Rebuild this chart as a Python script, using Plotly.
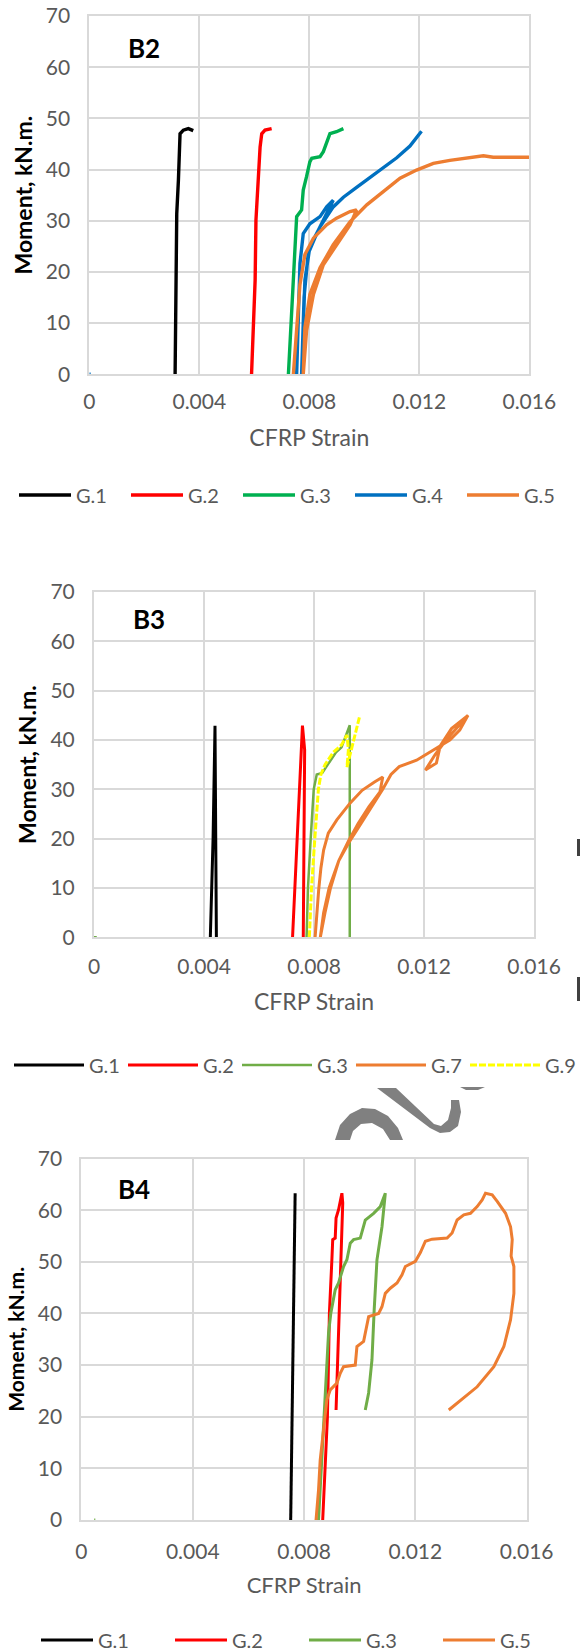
import plotly.graph_objects as go

W, H = 580, 1652

# ---------------- data (strain, moment kN.m) ----------------
x_ticks = [0, 0.004, 0.008, 0.012, 0.016]
x_tick_labels = ["0", "0.004", "0.008", "0.012", "0.016"]
y_ticks = [0, 10, 20, 30, 40, 50, 60, 70]

# Panel B2
b2_g1_strain = [0.00312, 0.00315, 0.00316, 0.00318, 0.00318, 0.00324, 0.00327, 0.0033, 0.00342, 0.0036, 0.00378]
b2_g1_moment = [0, 11.9, 22.0, 22.5, 31.4, 37.9, 44.4, 47.0, 47.7, 48.0, 47.6]
b2_g2_strain = [0.0059, 0.00597, 0.00603, 0.00606, 0.00615, 0.00621, 0.00627, 0.00639, 0.00663]
b2_g2_moment = [0, 9.1, 18.4, 30.1, 40.6, 44.4, 47.0, 47.7, 48.0]
b2_g3_strain = [0.00724, 0.00732, 0.00742, 0.00748, 0.00754, 0.00772, 0.00778, 0.0079, 0.00802, 0.00809,
                0.00839, 0.00851, 0.00863, 0.00875, 0.00899, 0.00924]
b2_g3_moment = [0, 9.1, 18.4, 26.2, 30.8, 32.1, 36.0, 38.6, 41.5, 42.2, 42.5, 43.5, 45.4, 47.0, 47.4, 48.0]
b2_g4_strain = [0, 0.00005, None, 0.00754, 0.0076, 0.00766, 0.00778, 0.00802, 0.00839, 0.00863, 0.00887,
                0.00863, 0.00827, 0.00796, 0.00781, 0.00772, 0.00776, 0.00784, 0.00802, 0.00839, 0.00887,
                0.00924, 0.00972, 0.01021, 0.01069, 0.01118, 0.01166, 0.0119, 0.01208]
b2_g4_moment = [0, 0, None, 0, 11.9, 21.6, 27.5, 29.4, 30.8, 32.7, 34.0, 31.5, 27.5, 23.6, 15.1, 0, 8, 18.4,
                24.9, 28.8, 32.7, 34.6, 36.5, 38.4, 40.4, 42.3, 44.6, 46.2, 47.5]
b2_g5_strain = [0.00742, 0.00754, 0.00766, 0.00784, 0.00815, 0.00863, 0.00899, 0.00948, 0.00972, 0.00948,
                0.00899, 0.00851, 0.00815, 0.0079, 0.00778, 0.00784, 0.00802, 0.00839, 0.00887, 0.00948,
                0.01009, 0.01069, 0.0113, 0.0119, 0.01251, 0.01311, 0.01372, 0.01433, 0.01469, 0.016]
b2_g5_moment = [0, 9.1, 17.5, 23.4, 26.6, 29.2, 30.5, 31.8, 32.1, 29.2, 25.3, 21.4, 15.6, 8.5, 0, 9.1, 15.6,
                20.8, 25.3, 29.8, 33.1, 35.7, 38.3, 39.9, 41.2, 41.8, 42.2, 42.7, 42.4, 42.4]

# Panel B3
b3_g1_strain = [0.00423, 0.00433, 0.0044, 0.00443, 0.00445]
b3_g1_moment = [0, 20, 42.9, 20, 0]
b3_g2_strain = [0.00722, 0.0073, 0.00738, 0.00745, 0.00752, 0.00758, 0.00766, 0.00764, 0.00761]
b3_g2_moment = [0, 10, 20, 30, 38, 42.9, 38, 20, 0]
b3_g3_strain = [0, 0.0001, None, 0.00773, 0.00778, 0.00788, 0.00799, 0.0081, 0.0083, 0.0085, 0.0088, 0.009,
                0.0091, 0.0093, 0.0093, 0.0093]
b3_g3_moment = [0, 0, None, 0, 10, 20, 30, 33, 33.3, 35, 37.5, 38.5, 40, 43, 30, 0]
b3_g7_strain = [0.00804, 0.0081, 0.00817, 0.00825, 0.00835, 0.00852, 0.00883, 0.00931, 0.00975, 0.0102,
                0.0105,
                0.0104, 0.0100, 0.0096, 0.00925, 0.0089, 0.00855, 0.00835, 0.00823,
                0.0084, 0.0086, 0.0089, 0.0093, 0.0097, 0.0101, 0.0105, 0.0108, 0.0111, 0.01173, 0.01234,
                0.01294, 0.0133, 0.0136, 0.013, 0.01259, 0.01245, 0.01219, 0.01205, 0.0124, 0.0128, 0.0132,
                0.01355]
b3_g7_moment = [0, 5, 9.6, 14, 17.7, 21.1, 23.8, 27.2, 29.8, 31.5,
                32.5,
                29.5, 26.5, 23.0, 19.5, 15.5, 10, 5, 0,
                5, 10, 15.5, 19.5, 23, 26.5, 30, 33, 34.6, 35.9, 37.9,
                40, 42, 45.0, 42.3, 38.8, 35.3, 34.5, 33.9, 37.0, 40.0, 42.5,
                44.5]
b3_g9_strain = [0.00783, 0.00791, 0.00803, 0.00816, 0.00825, 0.0084, 0.0087, 0.009, 0.0092, 0.00925, 0.0092,
                0.00935, 0.0095, 0.00965]
b3_g9_moment = [0, 10, 20, 30, 33, 35, 37.5, 39, 41, 38, 34.5, 38, 41, 44.6]

# Panel B4
b4_g1_strain = [0.00752, 0.0076, 0.00768]
b4_g1_moment = [0, 30, 63.3]
b4_g2_strain = [0.00867, 0.00876, 0.00884, 0.00888, 0.00891, 0.009, 0.00903, 0.00912, 0.00915, 0.00924,
                0.00936, 0.00939, 0.00932, 0.00924, 0.0092, 0.00915, 0.00915]
b4_g2_moment = [0, 10.3, 20, 31, 40, 50.4, 54.3, 54.6, 58.5, 60.1, 63.3, 61.4, 50.4, 37.5, 31, 24.6, 21.3]
b4_g3_strain = [0.00046, 0.0005, None, 0.00852, 0.00864, 0.00872, 0.00879, 0.00888, 0.00896, 0.00912,
                0.00924, 0.00942, 0.00954, 0.00966, 0.00978, 0.01002, 0.0102, 0.0105, 0.01074, 0.01086,
                0.01092, 0.0108, 0.01062, 0.01052, 0.01044, 0.01032, 0.0102]
b4_g3_moment = [0, 0, None, 0, 11.6, 20, 27.8, 36.2, 40, 44.6, 45.9, 49.1, 50.4, 53.6, 54.3, 54.6, 58.1,
                59.4, 60.7, 62.5, 63.3, 56.8, 50.4, 40.7, 31, 24.6, 21.3]
b4_g5_strain = [0.00843, 0.00852, 0.00858, 0.0087, 0.00882, 0.00894, 0.00918, 0.0093, 0.00942, 0.00984,
                0.0099, 0.01014, 0.01026, 0.01032, 0.01068, 0.0108, 0.01092, 0.0111, 0.01134, 0.01152,
                0.01164, 0.012, 0.01218, 0.01236, 0.0126, 0.01314, 0.01332, 0.0135, 0.01374, 0.01398,
                0.01422, 0.0144, 0.01452, 0.01476, 0.01494, 0.01524, 0.01542, 0.01548, 0.01544, 0.01554,
                0.01554, 0.01542, 0.01518, 0.01482, 0.01422, 0.0132]
b4_g5_moment = [0, 5.8, 11.6, 18.1, 23.3, 25.2, 26.5, 28.4, 29.7, 30, 33.6, 34.6, 37.5, 39.4, 40, 41.3,
                43.9, 44.9, 45.9, 47.5, 49.1, 50.1, 51.8, 54.0, 54.4, 54.6, 55.6, 58.1, 59.1, 59.4, 60.7,
                62.0, 63.3, 63.0, 61.7, 59.4, 56.8, 54.3, 51.1, 49.1, 43.9, 38.8, 33.6, 29.7, 25.8, 21.3]

panel_labels = ["B2", "B3", "B4"]

# ---------------- styling ----------------
FONT = "Lato"
GRID = "#D9D9D9"
TXT = "#595959"
C_BLACK, C_RED = "#000000", "#FF0000"
C_GREEN_B2, C_GREEN = "#00B050", "#70AD47"
C_BLUE, C_ORANGE, C_YELLOW = "#0070C0", "#ED7D31", "#FFFF00"

# pixel geometry of the three plot areas: (left, right, top, bottom)
areas = [(89.3, 529.3, 16.0, 374.3), (94.0, 534.0, 592.0, 937.3), (81.4, 526.7, 1158.6, 1520.0)]
legend_y = [495, 1065, 1640]
legend_x = [14, 9, 36]
legend_itemw = [52, 70, 52]
legend_entry = [45, 29, 67]
label_pos = [(0.124, 0.912), (0.126, 0.923), (0.118, 0.917)]
ytitle_size = [23, 23, 21]
xtitle_size = [23, 23, 22]
x_ticklen = [7, 9, 12]
x_standoff = [18, 17, 15]
line_w = [3.4, 3, 3]

fig = go.Figure()

series = [
    [("G.1", b2_g1_strain, b2_g1_moment, C_BLACK, "solid"),
     ("G.2", b2_g2_strain, b2_g2_moment, C_RED, "solid"),
     ("G.3", b2_g3_strain, b2_g3_moment, C_GREEN_B2, "solid"),
     ("G.4", b2_g4_strain, b2_g4_moment, C_BLUE, "solid"),
     ("G.5", b2_g5_strain, b2_g5_moment, C_ORANGE, "solid")],
    [("G.1", b3_g1_strain, b3_g1_moment, C_BLACK, "solid"),
     ("G.2", b3_g2_strain, b3_g2_moment, C_RED, "solid"),
     ("G.3", b3_g3_strain, b3_g3_moment, C_GREEN, "solid"),
     ("G.7", b3_g7_strain, b3_g7_moment, C_ORANGE, "solid"),
     ("G.9", b3_g9_strain, b3_g9_moment, C_YELLOW, "7px,2px")],
    [("G.1", b4_g1_strain, b4_g1_moment, C_BLACK, "solid"),
     ("G.2", b4_g2_strain, b4_g2_moment, C_RED, "solid"),
     ("G.3", b4_g3_strain, b4_g3_moment, C_GREEN, "solid"),
     ("G.5", b4_g5_strain, b4_g5_moment, C_ORANGE, "solid")],
]

annotations = []
for i, (l, r, t, b) in enumerate(areas):
    sfx = "" if i == 0 else str(i + 1)
    leg = "legend" if i == 0 else f"legend{i + 1}"
    for name, xs, ys, col, dash in series[i]:
        wd = 2.5 if (i == 1 and name == "G.3") else line_w[i]
        fig.add_trace(go.Scatter(x=xs, y=ys, name=name, mode="lines",
                                 line=dict(color=col, width=wd, dash=dash),
                                 xaxis="x" + sfx, yaxis="y" + sfx, legend=leg))
    fig.layout["xaxis" + sfx] = dict(
        domain=[l / W, r / W], anchor="y" + sfx, range=[0, 0.016],
        tickvals=x_ticks, ticktext=x_tick_labels,
        showgrid=True, gridcolor=GRID, gridwidth=2, zeroline=False,
        showline=True, linecolor=GRID, linewidth=2, mirror=True,
        ticks="outside", ticklen=x_ticklen[i], tickcolor="rgba(0,0,0,0)",
        tickfont=dict(family=FONT, size=21, color=TXT),
        title=dict(text="CFRP Strain", font=dict(family=FONT, size=xtitle_size[i], color=TXT),
                   standoff=x_standoff[i]),
        automargin=False, fixedrange=True)
    fig.layout["yaxis" + sfx] = dict(
        domain=[1 - b / H, 1 - t / H], anchor="x" + sfx, range=[0, 70],
        tickvals=y_ticks, showgrid=True, gridcolor=GRID, gridwidth=2, zeroline=False,
        showline=True, linecolor=GRID, linewidth=2, mirror=True,
        ticks="outside", ticklen=13, tickcolor="rgba(0,0,0,0)",
        tickfont=dict(family=FONT, size=21, color=TXT),
        title=dict(text="<b>Moment, kN.m.</b>", font=dict(family=FONT, size=ytitle_size[i], color="#000000"),
                   standoff=7),
        automargin=False, fixedrange=True)
    fig.layout[leg] = dict(
        orientation="h", x=legend_x[i] / W, y=1 - legend_y[i] / H, xanchor="left", yanchor="middle",
        font=dict(family=FONT, size=20, color=TXT), bgcolor="rgba(0,0,0,0)",
        entrywidth=legend_entry[i], entrywidthmode="pixels", itemwidth=legend_itemw[i], tracegroupgap=0)
    annotations.append(dict(text=f"<b>{panel_labels[i]}</b>", xref="x" + sfx + " domain",
                            yref="y" + sfx + " domain", x=label_pos[i][0], y=label_pos[i][1],
                            xanchor="center", yanchor="middle", showarrow=False,
                            font=dict(family=FONT, size=26, color="#000000")))


def px_path(pts, close=False):
    s = "M " + " L ".join(f"{x / W:.5f},{1 - y / H:.5f}" for x, y in pts)
    return s + (" Z" if close else "")


shapes = [
    # watermark fragments (grey) between panel B3 and B4
    dict(type="path", xref="paper", yref="paper", fillcolor="#808080", line=dict(width=0),
         path=px_path([(335, 1140), (340, 1125), (350, 1114), (362, 1108), (375, 1109), (388, 1116),
                       (398, 1128), (403, 1140), (390, 1140), (383, 1129), (372, 1123), (361, 1124),
                       (353, 1131), (350, 1140)], close=True)),
    dict(type="path", xref="paper", yref="paper", fillcolor="#808080", line=dict(width=0),
         path=px_path([(377, 1088), (396, 1088), (434, 1124), (441, 1126), (448, 1120), (451, 1108),
                       (451, 1100), (459, 1100), (461, 1112), (458, 1126), (450, 1132), (440, 1133),
                       (430, 1128)], close=True)),
    dict(type="path", xref="paper", yref="paper", fillcolor="#808080", line=dict(width=0),
         path=px_path([(460, 1087), (485, 1087), (478, 1090), (466, 1090)], close=True)),
    # small dark marks at the right page edge
    dict(type="rect", xref="paper", yref="paper", x0=577 / W, x1=1, y0=1 - 856 / H, y1=1 - 839 / H,
         fillcolor="#404040", line=dict(width=0)),
    dict(type="rect", xref="paper", yref="paper", x0=577 / W, x1=1, y0=1 - 1001 / H, y1=1 - 977 / H,
         fillcolor="#404040", line=dict(width=0)),
]

fig.update_layout(width=W, height=H, margin=dict(l=0, r=0, t=0, b=0, autoexpand=False),
                  paper_bgcolor="white", plot_bgcolor="white",
                  font=dict(family=FONT, color=TXT), annotations=annotations, shapes=shapes,
                  showlegend=True)

fig.write_html("out.html", config={"displayModeBar": False},
               post_script="document.body.style.margin='0';")
